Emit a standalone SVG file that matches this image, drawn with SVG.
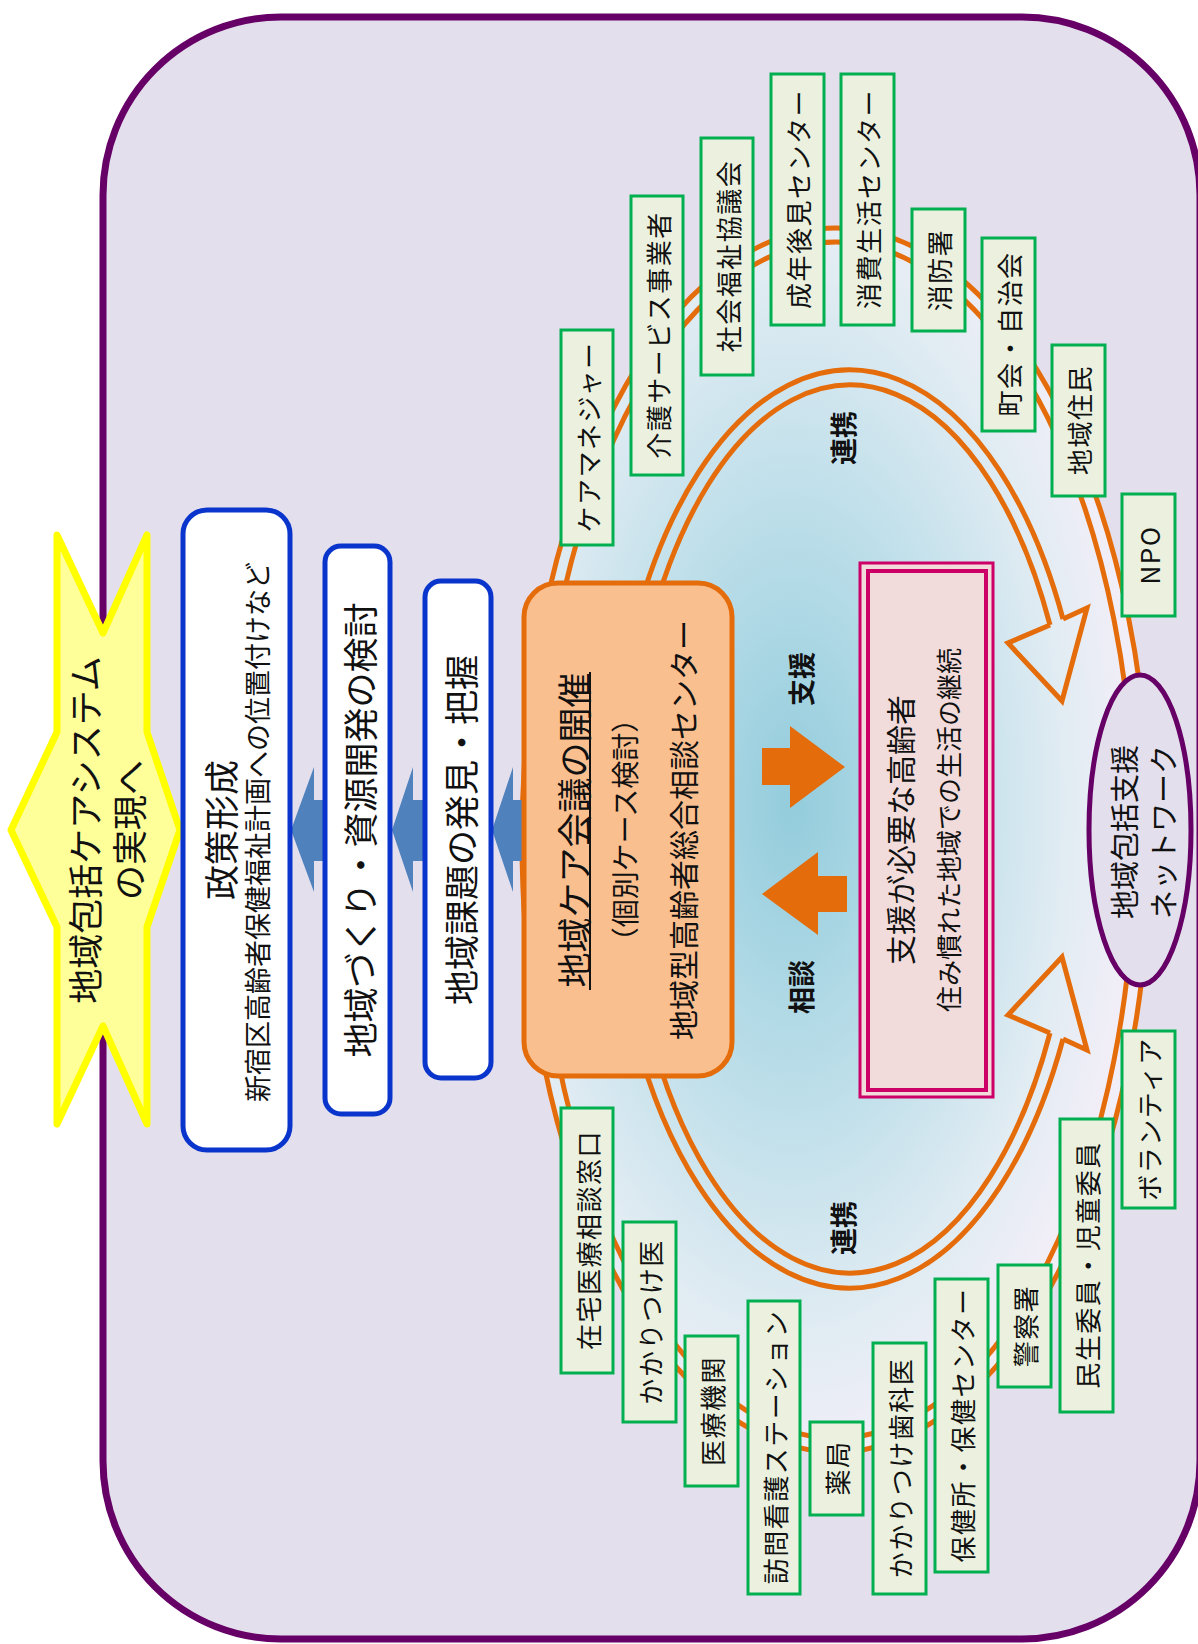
<svg xmlns="http://www.w3.org/2000/svg" width="1198" height="1644" viewBox="0 0 1198 1644">
<style>
text { font-family: "Noto Sans CJK JP", "Noto Sans", sans-serif; fill: #111; text-anchor: middle; dominant-baseline: central; }
.node rect { fill: #EBF1DE; stroke: #00B050; stroke-width: 3; }
.node text { font-size: 26px; letter-spacing: 1.5px; }
.blue rect { fill: #FFFFFF; stroke: #0A35CC; stroke-width: 5; }
.big { font-size: 35px; }
.lbl { font-size: 27px; font-weight: bold; }
.ring { fill: none; stroke: #E46C0A; stroke-width: 5; }
.barrow { fill: #4F81BD; }
.oarrow { fill: #E46C0A; }
</style>
<defs>
<radialGradient id="glow" cx="0.43" cy="0.47" r="0.55">
<stop offset="0" stop-color="#93CCDC"/>
<stop offset="0.45" stop-color="#BEDFEA"/>
<stop offset="0.8" stop-color="#E2ECF3"/>
<stop offset="1" stop-color="#F2EEF8"/>
</radialGradient>
</defs>

<!-- outer frame -->
<rect id="frame" x="103" y="17" width="1097" height="1622" rx="178" ry="178" fill="#E4DFEC" stroke="#660066" stroke-width="7"/>

<!-- network area -->
<g id="network-ring">
<ellipse cx="836" cy="840" rx="314" ry="612" fill="url(#glow)"/>
<ellipse class="ring" cx="836" cy="840" rx="314" ry="612"/>
<ellipse class="ring" cx="836" cy="840" rx="299" ry="598"/>
</g>

<g id="connectors">
<path class="ring" d="M1063,619 A240,459 0 1 0 1063,1039"/>
<path class="ring" d="M1050,625 A225,444 0 1 0 1050,1033"/>
<path class="ring" stroke-linejoin="miter" d="M1050,625 L1008,643 L1062,701 L1087,608 L1063,619"/>
<path class="ring" stroke-linejoin="miter" d="M1050,1033 L1008,1015 L1062,957 L1087,1050 L1063,1039"/>
<polygon class="barrow" points="291,830 314,767 314,800 327,800 327,861 314,861 314,892"/>
<polygon class="barrow" points="392,830 413,767 413,800 427,800 427,861 413,861 413,892"/>
<polygon class="barrow" points="492,830 513,767 513,800 526,800 526,861 513,861 513,892"/>
<polygon class="oarrow" points="762,748 790,748 790,726 845,767 790,808 790,785 762,785"/>
<polygon class="oarrow" points="762,894 818,852 818,876 847,876 847,912 818,912 818,935"/>
<text class="lbl" transform="translate(800,679) rotate(-90)">支援</text>
<text class="lbl" transform="translate(800,987) rotate(-90)">相談</text>
<text class="lbl" transform="translate(842,438) rotate(-90)">連携</text>
<text class="lbl" transform="translate(842,1228) rotate(-90)">連携</text>
</g>

<!-- goal star -->
<g id="goal">
<polygon points="57,535 103,633 147,535 147,732 180,830 147,927 147,1124 103,1026 57,1124 57,927 11,830 57,732" fill="#FFFF99" stroke="#FFFF00" stroke-width="7" stroke-linejoin="round"/>
<text class="big" transform="translate(83,830) rotate(-90)">地域包括ケアシステム</text>
<text class="big" transform="translate(127,830) rotate(-90)">の実現へ</text>
</g>

<g id="policy" class="blue">
<rect x="183" y="510" width="107" height="640" rx="24"/>
<text class="big" transform="translate(219,830) rotate(-90)">政策形成</text>
<text style="font-size:27px" transform="translate(256,832) rotate(-90)">新宿区高齢者保健福祉計画への位置付けなど</text>
</g>
<g id="community" class="blue">
<rect x="325" y="546" width="65" height="568" rx="16"/>
<text class="big" transform="translate(358,830) rotate(-90)">地域づくり・資源開発の検討</text>
</g>
<g id="issues" class="blue">
<rect x="425" y="581" width="66" height="497" rx="16"/>
<text class="big" transform="translate(459,830) rotate(-90)">地域課題の発見・把握</text>
</g>

<g id="care-meeting">
<rect x="524" y="583" width="208" height="493" rx="34" fill="#FABF8F" stroke="#E46C0A" stroke-width="5"/>
<text class="big" transform="translate(572,830) rotate(-90)">地域ケア会議の開催</text>
<line x1="590" y1="672" x2="590" y2="990" stroke="#111" stroke-width="2"/>
<text style="font-size:28px" transform="translate(624,830) rotate(-90)">（個別ケース検討）</text>
<text style="font-size:30px" transform="translate(682,830) rotate(-90)">地域型高齢者総合相談センター</text>
</g>

<g id="elderly">
<rect x="860" y="563" width="133" height="534" fill="#F2DCDB" stroke="#CC0066" stroke-width="3"/>
<rect x="868" y="571" width="118" height="519" fill="#F2DCDB" stroke="#CC0066" stroke-width="4"/>
<text style="font-size:30px" transform="translate(899,830) rotate(-90)">支援が必要な高齢者</text>
<text style="font-size:26px" transform="translate(947,830) rotate(-90)">住み慣れた地域での生活の継続</text>
</g>

<g id="support-network">
<ellipse cx="1140" cy="830" rx="51" ry="155" fill="#E4DFEC" stroke="#660066" stroke-width="5"/>
<text style="font-size:29px" transform="translate(1123,832) rotate(-90)">地域包括支援</text>
<text style="font-size:29px" transform="translate(1162,832) rotate(-90)">ネットワーク</text>
</g>

<!-- network members -->
<g id="n-caremanager" class="node"><rect x="561" y="330" width="52" height="215"/><text transform="translate(587,437) rotate(-90)">ケアマネジャー</text></g>
<g id="n-kaigo" class="node"><rect x="631" y="196" width="52" height="279"/><text transform="translate(657,335) rotate(-90)">介護サービス事業者</text></g>
<g id="n-shakyo" class="node"><rect x="701" y="138" width="52" height="237"/><text transform="translate(727,256) rotate(-90)">社会福祉協議会</text></g>
<g id="n-seinen" class="node"><rect x="771" y="74" width="53" height="251"/><text transform="translate(797,199) rotate(-90)">成年後見センター</text></g>
<g id="n-shohi" class="node"><rect x="841" y="74" width="53" height="251"/><text transform="translate(867,199) rotate(-90)">消費生活センター</text></g>
<g id="n-shobo" class="node"><rect x="912" y="209" width="53" height="122"/><text transform="translate(938,270) rotate(-90)">消防署</text></g>
<g id="n-chokai" class="node"><rect x="982" y="238" width="53" height="193"/><text transform="translate(1008,334) rotate(-90)">町会・自治会</text></g>
<g id="n-jumin" class="node"><rect x="1052" y="345" width="53" height="151"/><text transform="translate(1078,420) rotate(-90)">地域住民</text></g>
<g id="n-npo" class="node"><rect x="1122" y="494" width="53" height="122"/><text transform="translate(1148,555) rotate(-90)">NPO</text></g>
<g id="n-zaitaku" class="node"><rect x="561" y="1108" width="52" height="265"/><text transform="translate(587,1240) rotate(-90)">在宅医療相談窓口</text></g>
<g id="n-kakaritsuke" class="node"><rect x="623" y="1222" width="53" height="200"/><text transform="translate(649,1322) rotate(-90)">かかりつけ医</text></g>
<g id="n-iryo" class="node"><rect x="685" y="1336" width="53" height="150"/><text transform="translate(711,1411) rotate(-90)">医療機関</text></g>
<g id="n-houmon" class="node"><rect x="748" y="1301" width="52" height="293"/><text transform="translate(774,1447) rotate(-90)">訪問看護ステーション</text></g>
<g id="n-yakkyoku" class="node"><rect x="810" y="1422" width="53" height="93"/><text transform="translate(836,1468) rotate(-90)">薬局</text></g>
<g id="n-shika" class="node"><rect x="873" y="1343" width="53" height="251"/><text transform="translate(899,1468) rotate(-90)">かかりつけ歯科医</text></g>
<g id="n-hokenjo" class="node"><rect x="935" y="1279" width="53" height="293"/><text transform="translate(961,1425) rotate(-90)">保健所・保健センター</text></g>
<g id="n-keisatsu" class="node"><rect x="998" y="1265" width="53" height="122"/><text transform="translate(1024,1326) rotate(-90)">警察署</text></g>
<g id="n-minsei" class="node"><rect x="1060" y="1119" width="53" height="293"/><text transform="translate(1086,1265) rotate(-90)">民生委員・児童委員</text></g>
<g id="n-volunteer" class="node"><rect x="1122" y="1031" width="53" height="177"/><text transform="translate(1148,1119) rotate(-90)">ボランティア</text></g>
</svg>
